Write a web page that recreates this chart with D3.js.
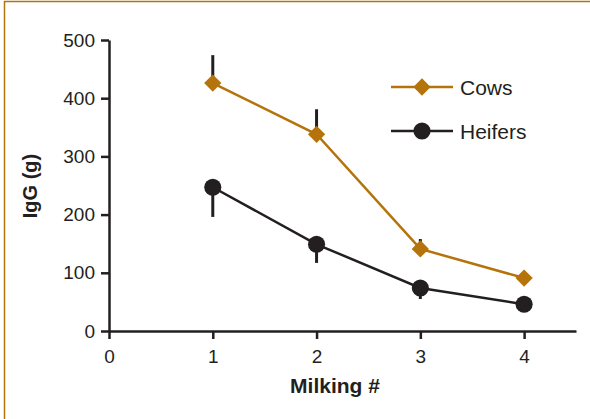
<!DOCTYPE html>
<html>
<head>
<meta charset="utf-8">
<script src="https://cdn.jsdelivr.net/npm/d3@7/dist/d3.min.js"></script>
<style>
  html, body { margin: 0; padding: 0; background: #fff; }
  svg { display: block; font-family: "Liberation Sans", Arial, sans-serif; }
</style>
</head>
<body>
<svg id="chart" width="590" height="419"></svg>
<script>
// IgG yield per milking, cows vs heifers
const milkings = [1, 2, 3, 4];
const cows = [426, 338, 141, 91];
const cowsErr = [474, 381, 158, null];      // upper error bar ends
const heifers = [247, 149, 74, 46];
const heifersErr = [196, 117, 55, null];    // lower error bar ends
const xTicks = [0, 1, 2, 3, 4];
const yTicks = [0, 100, 200, 300, 400, 500];

const orange = "#B5730C";
const dark = "#231F20";
const fontFamily = "'Liberation Sans', Arial, sans-serif";

const svg = d3.select("#chart");

// frame lines at top and left
svg.append("line").attr("x1", 4).attr("x2", 590).attr("y1", 1.5).attr("y2", 1.5)
  .attr("stroke", orange).attr("stroke-width", 1.5);
svg.append("line").attr("x1", 4.5).attr("x2", 4.5).attr("y1", 1).attr("y2", 419)
  .attr("stroke", orange).attr("stroke-width", 1.5);

const x = d3.scaleLinear().domain([0, 4.5]).range([109, 576]);
const y = d3.scaleLinear().domain([0, 500]).range([331, 40]);

// axes
const xAxis = svg.append("g").attr("transform", `translate(0,${y(0)})`)
  .call(d3.axisBottom(x).tickValues(xTicks).tickFormat(d3.format("d")).tickSize(8).tickPadding(11).tickSizeOuter(0));
const yAxis = svg.append("g").attr("transform", `translate(${x(0)},0)`)
  .call(d3.axisLeft(y).tickValues(yTicks).tickSize(8).tickPadding(6).tickSizeOuter(0));

[xAxis, yAxis].forEach(g => {
  g.attr("font-size", 19).attr("font-family", fontFamily);
  g.select(".domain").attr("stroke", dark).attr("stroke-width", 2.5);
  g.selectAll(".tick line").attr("stroke", dark).attr("stroke-width", 2.5);
  g.selectAll(".tick text").attr("fill", dark);
});

// axis titles
svg.append("text").attr("x", 335).attr("y", 393).attr("text-anchor", "middle")
  .attr("font-size", 21).attr("font-weight", "bold").attr("fill", dark).text("Milking #");
svg.append("text").attr("transform", "translate(37,186) rotate(-90)").attr("text-anchor", "middle")
  .attr("font-size", 20).attr("font-weight", "bold").attr("fill", dark).text("IgG (g)");

const line = d3.line().x((d, i) => x(milkings[i])).y(d => y(d));

function drawSeries(values, errs, color, marker) {
  const g = svg.append("g");
  // error bars
  g.selectAll("line.err").data(values).join("line")
    .filter((d, i) => errs[i] != null)
    .attr("x1", (d, i) => x(milkings[i])).attr("x2", (d, i) => x(milkings[i]))
    .attr("y1", d => y(d)).attr("y2", (d, i) => y(errs[i]))
    .attr("stroke", dark).attr("stroke-width", 3);
  g.append("path").datum(values).attr("d", line)
    .attr("fill", "none").attr("stroke", color).attr("stroke-width", 2.5);
  g.selectAll("path.mk").data(values).join("path")
    .attr("transform", (d, i) => `translate(${x(milkings[i])},${y(d)})`)
    .attr("d", marker).attr("fill", color);
}

const diamond = d3.symbol().type(d3.symbolDiamond2).size(190)();
const circle = d3.symbol().type(d3.symbolCircle).size(230)();

drawSeries(cows, cowsErr, orange, diamond);
drawSeries(heifers, heifersErr, dark, circle);

// legend
const legend = [
  { name: "Cows", color: orange, marker: diamond, y: 87 },
  { name: "Heifers", color: dark, marker: circle, y: 131 }
];
const lg = svg.append("g").selectAll("g").data(legend).join("g")
  .attr("transform", d => `translate(0,${d.y})`);
lg.append("line").attr("x1", 391).attr("x2", 453).attr("stroke", d => d.color).attr("stroke-width", 2.5);
lg.append("path").attr("transform", "translate(422,0)").attr("d", d => d.marker).attr("fill", d => d.color);
lg.append("text").attr("x", 460).attr("y", 7.5).attr("font-size", 21).attr("fill", dark).text(d => d.name);
</script>
</body>
</html>
